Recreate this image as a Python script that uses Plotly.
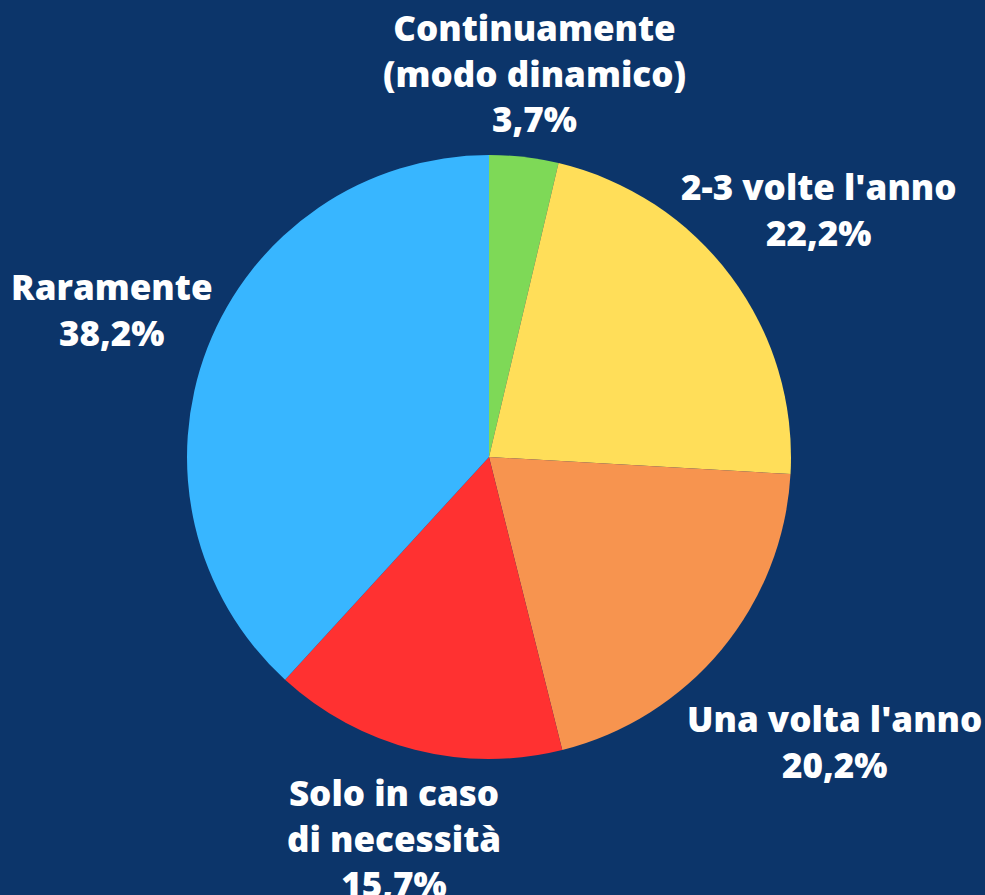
import plotly.graph_objects as go

# survey answers, clockwise from 12 o'clock
labels = ["Continuamente<br>(modo dinamico)", "2-3 volte l'anno", "Una volta l'anno",
          "Solo in caso<br>di necessità", "Raramente"]
values = [3.7, 22.2, 20.2, 15.7, 38.2]
colors = ["#7ed957", "#ffde59", "#f7944f", "#ff3131", "#38b6ff"]

# where the label blocks sit (pixel centres in the 985x895 page)
label_pos = [(534, 73), (819, 210), (834, 741), (394, 838), (112, 310)]

W, H = 985, 895
bg = "#0c356a"

fig = go.Figure(go.Pie(
    labels=labels,
    values=values,
    sort=False,
    direction="clockwise",
    rotation=0,
    marker=dict(colors=colors, line=dict(width=0)),
    textinfo="none",
    hoverinfo="label+percent",
    showlegend=False,
    domain=dict(x=[(489 - 302) / W, (489 + 302) / W],
                y=[(H - 457 - 302) / H, (H - 457 + 302) / H]),
))

for lab, val, (px_, py_) in zip(labels, values, label_pos):
    txt = f"{lab}<br>{val:.1f}".replace(".", ",") + "%"
    fig.add_annotation(
        x=px_ / W, y=1 - py_ / H, xref="paper", yref="paper",
        text=txt, showarrow=False, xanchor="center", yanchor="middle",
        align="center",
        font=dict(family="Open Sans", size=35, color="white", weight=800),
    )

fig.update_layout(
    width=W, height=H,
    margin=dict(l=0, r=0, t=0, b=0),
    paper_bgcolor=bg,
    plot_bgcolor=bg,
)

# drop the browser's default body margin so the figure fills the window
fig.write_html("out.html", config={"displayModeBar": False},
               post_script="document.body.style.margin='0';")
